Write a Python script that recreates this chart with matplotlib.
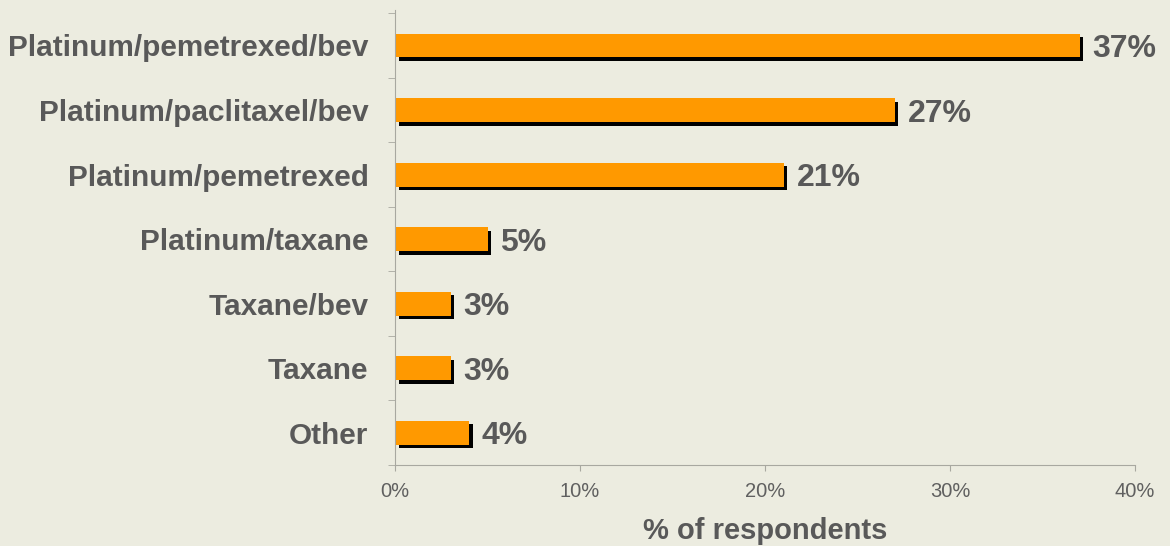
import matplotlib.pyplot as plt
import matplotlib.patheffects as pe
import numpy as np

categories = ["Platinum/pemetrexed/bev", "Platinum/paclitaxel/bev", "Platinum/pemetrexed",
              "Platinum/taxane", "Taxane/bev", "Taxane", "Other"]
values = [37, 27, 21, 5, 3, 3, 4]
xticks = [0, 10, 20, 30, 40]

bg = "#ECECE0"
txt = "#595959"
plt.rcParams["font.family"] = ["Liberation Sans", "DejaVu Sans"]

fig = plt.figure(figsize=(11.7, 5.46), dpi=100, facecolor=bg)
ax = fig.add_axes([395 / 1170, 1 - 465 / 546, 740 / 1170, 455 / 546], facecolor=bg)

y = np.arange(len(categories))
bars = ax.barh(y, values, height=0.37, color="#FF9900", edgecolor="none")
for b in bars:
    b.set_path_effects([pe.SimplePatchShadow(offset=(2.6, -2.6), shadow_rgbFace="black", alpha=1),
                        pe.Normal()])

for yi, v in zip(y, values):
    ax.text(v + 0.7, yi, f"{v}%", va="center_baseline", ha="left", fontsize=23,
            fontweight="bold", color=txt)

ax.set_xlim(0, 40)
ax.set_ylim(6.5, -0.55)
ax.set_xticks(xticks)
ax.set_xticklabels([f"{t}%" for t in xticks], fontsize=14.5, color="#606060")
ax.tick_params(axis="x", length=4, color="#A8A8A0", pad=8)

ax.set_yticks(y)
ax.set_yticklabels(categories, fontsize=21.4, fontweight="bold", color=txt,
                   va="center_baseline")
ax.tick_params(axis="y", length=0, pad=19)
ax.set_yticks(np.arange(-0.5, 7, 1), minor=True)
ax.tick_params(axis="y", which="minor", length=5, color="#A8A8A0")

for s in ["top", "right"]:
    ax.spines[s].set_visible(False)
for s in ["left", "bottom"]:
    ax.spines[s].set_color("#A8A8A0")

ax.set_xlabel("% of respondents", fontsize=21, fontweight="bold", color=txt, labelpad=12)

fig.savefig("out.png", dpi=100, facecolor=bg)
